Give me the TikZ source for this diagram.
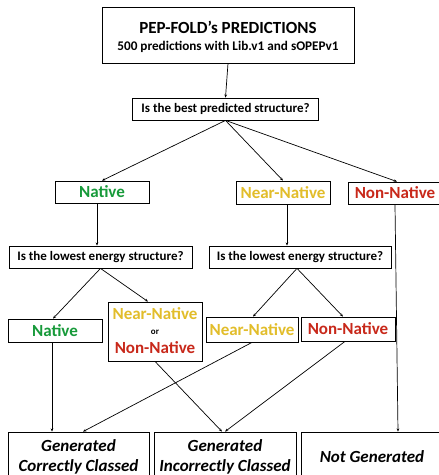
\documentclass[tikz,border=0pt]{standalone}
\usepackage{fontspec}
\setmainfont{Carlito}
\usetikzlibrary{arrows.meta}
\definecolor{natgreen}{HTML}{179A3A}
\definecolor{nearyellow}{HTML}{E2BD2A}
\definecolor{nonred}{HTML}{C8281A}
\begin{document}
\begin{tikzpicture}[x=1pt,y=-1pt,
  box/.style={draw=black,line width=0.8pt,fill=white,inner sep=0pt,anchor=center},
  qbox/.style={box,font=\bfseries\fontsize{13}{15}\selectfont},
  catbox/.style={box,font=\bfseries\fontsize{17}{19}\selectfont},
  endbox/.style={box,align=center,font=\bfseries\itshape\fontsize{17}{20}\selectfont},
  lbl/.style={inner sep=0pt,anchor=center},
  link/.style={line width=0.7pt,-{Stealth[length=3.2pt,width=2.6pt]}}]
\clip (0,0) rectangle (439,475);
\fill[white] (0,0) rectangle (439,475);

% title block
\node[box,minimum width=252pt,minimum height=56pt] (top) at (228,35) {};
\node[lbl,font=\bfseries\fontsize{17}{19}\selectfont] (title) at (228,27) {PEP-FOLD’s PREDICTIONS};
\node[lbl,font=\bfseries\fontsize{13.2}{15}\selectfont] (subtitle) at (228,47) {500 predictions with Lib.v1 and sOPEPv1};

% first question
\node[qbox,minimum width=186pt,minimum height=22pt] (q1) at (225.5,109) {Is the best predicted structure?};

% first-level classes
\node[catbox,minimum width=94pt,minimum height=22pt,text=natgreen] (nat1) at (102,192) {Native};
\node[catbox,minimum width=94pt,minimum height=23pt,text=nearyellow] (near1) at (283,192.5) {Near-Native};
\node[catbox,minimum width=94pt,minimum height=22pt,text=nonred] (non1) at (395,193) {Non-Native};

% second questions
\node[qbox,minimum width=183pt,minimum height=22pt] (q2) at (100.5,257) {Is the lowest energy structure?};
\node[qbox,minimum width=182pt,minimum height=22pt] (q3) at (300,257) {Is the lowest energy structure?};

% second-level classes
\node[catbox,minimum width=94pt,minimum height=23pt,text=natgreen] (nat2) at (55,330.5) {Native};
\node[box,minimum width=94pt,minimum height=59pt] (mix) at (155,331.5) {};
\node[lbl,font=\bfseries\fontsize{17}{19}\selectfont,text=nearyellow] (mixa) at (155,314) {Near-Native};
\node[lbl,font=\bfseries\fontsize{9}{10}\selectfont] (mixb) at (155,332) {or};
\node[lbl,font=\bfseries\fontsize{17}{19}\selectfont,text=nonred] (mixc) at (155,348) {Non-Native};
\node[catbox,minimum width=92pt,minimum height=25pt,text=nearyellow] (near2) at (252,329.5) {Near-Native};
\node[catbox,minimum width=94pt,minimum height=24pt,text=nonred] (non2) at (348,329) {Non-Native};

% outcomes
\node[endbox,minimum width=141pt,minimum height=50pt] (good) at (78.5,457) {Generated\\Correctly Classed};
\node[endbox,minimum width=142pt,minimum height=50pt] (bad) at (225,457) {Generated\\Incorrectly Classed};
\node[endbox,minimum width=142pt,minimum height=50pt] (none) at (372,457) {Not Generated};

% connectors
\draw[link] (top.south) -- (q1.north);
\draw[link] (q1.south) -- (nat1.north);
\draw[link] (q1.south) -- (near1.north);
\draw[link] (q1.south) -- ([xshift=2pt]non1.north);
\draw[link] ([xshift=-5pt]nat1.south) -- ([xshift=-3.5pt]q2.north);
\draw[link] ([xshift=4pt]near1.south) -- ([xshift=-13pt]q3.north);
\draw[link] (q2.south) -- ([xshift=-2pt]nat2.north);
\draw[link] (q2.south) -- ([xshift=-7pt]mix.north);
\draw[link] ([xshift=-3pt]q3.south) -- ([xshift=1pt]near2.north);
\draw[link] ([xshift=-3pt]q3.south) -- ([xshift=-5pt]non2.north);
\draw[link] ([xshift=-3pt]nat2.south) -- ([xshift=-26.5pt]good.north);
\draw[link] (near2.south) -- ([xshift=4.5pt]good.north);
\draw[link] (mix.south) -- ([xshift=-3pt]bad.north);
\draw[link] ([xshift=-3pt]non2.south) -- (bad.north);
\draw[link] (non1.south) -- ([xshift=26pt]none.north);
\end{tikzpicture}
\end{document}
